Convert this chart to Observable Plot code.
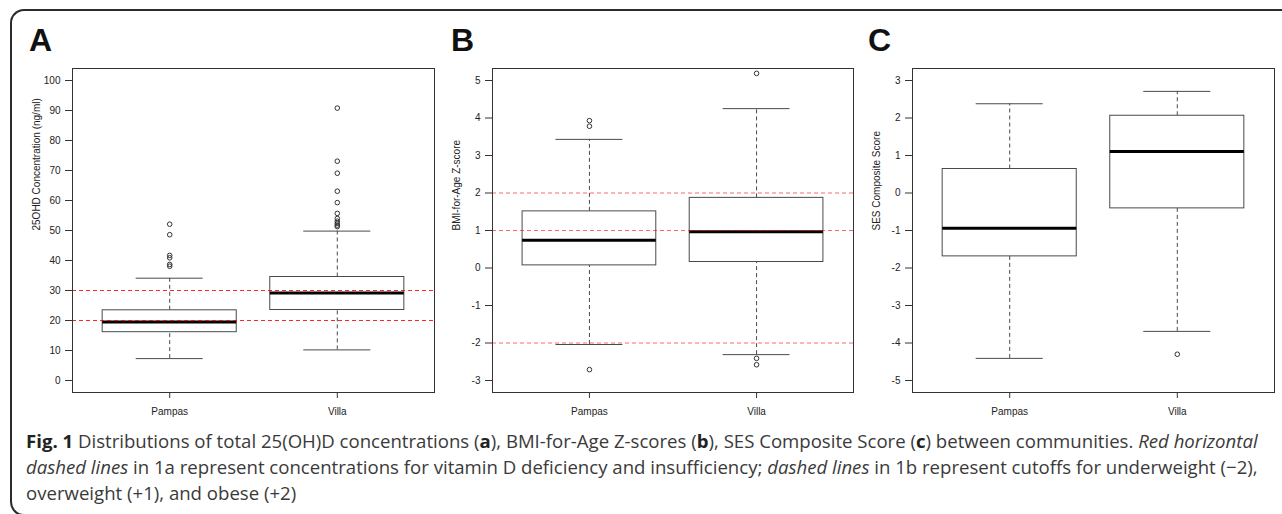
<!DOCTYPE html>
<html><head><meta charset="utf-8">
<script src="https://cdn.jsdelivr.net/npm/d3@7"></script>
<script src="https://cdn.jsdelivr.net/npm/@observablehq/plot@0.6"></script>
<style>
html,body{margin:0;padding:0;background:#fff;overflow:hidden;}
body{width:1282px;height:514px;position:relative;font-family:"Liberation Sans",Arial,sans-serif;}
#clip{position:absolute;left:0;top:0;width:1282px;height:514px;overflow:hidden;}
#frame{position:absolute;left:10px;top:9px;width:1320px;height:507px;border:2px solid #2b2b2b;border-right:none;border-radius:14px 0 0 14px;box-sizing:border-box;}
.panel{position:absolute;top:0;}
.letter{position:absolute;top:24px;font:bold 32px/32px "Liberation Sans",Arial,sans-serif;color:#111;}
#caption{position:absolute;left:26px;top:428px;white-space:nowrap;font:18.6px/26px "Open Sans",sans-serif;color:#3a3a3a;}
#caption b{color:#222;}
</style>
</head><body>
<div id="clip">
<div id="frame"></div>
<div id="pA" class="panel" style="left:0px"></div>
<div id="pB" class="panel" style="left:420px"></div>
<div id="pC" class="panel" style="left:850px"></div>
<div class="letter" style="left:29px">A</div>
<div class="letter" style="left:451px">B</div>
<div class="letter" style="left:868px">C</div>
<div id="caption"><b>Fig. 1</b> Distributions of total 25(OH)D concentrations (<b>a</b>), BMI-for-Age Z-scores (<b>b</b>), SES Composite Score (<b>c</b>) between communities. <i>Red horizontal</i><br><i>dashed lines</i> in 1a represent concentrations for vitamin D deficiency and insufficiency; <i>dashed lines</i> in 1b represent cutoffs for underweight (−2),<br>overweight (+1), and obese (+2)</div>
</div>
<script>
// ---- categories ----
const groups = ["Pampas", "Villa"];

// ---- Panel A: 25OHD concentration (ng/ml) ----
const vitD_whiskerLow  = [7.3, 10.2];
const vitD_q1          = [16.1, 23.5];
const vitD_median      = [19.5, 29.2];
const vitD_q3          = [23.4, 34.5];
const vitD_whiskerHigh = [34.1, 49.8];
const vitD_outliersPampas = [52.1, 48.6, 41.7, 40.9, 38.7, 38.1];
const vitD_outliersVilla  = [90.8, 73.1, 69.1, 63.1, 59.3, 55.7, 54.0, 53.1, 52.4, 51.8, 51.3];
const vitD_cutoffs = [20, 30];
const vitD_limits  = [0, 100];
const vitD_ticks   = [0, 10, 20, 30, 40, 50, 60, 70, 80, 90, 100];

// ---- Panel B: BMI-for-Age Z-score ----
const bmi_whiskerLow  = [-2.04, -2.31];
const bmi_q1          = [0.07, 0.16];
const bmi_median      = [0.74, 0.97];
const bmi_q3          = [1.51, 1.87];
const bmi_whiskerHigh = [3.43, 4.25];
const bmi_outliersPampas = [3.93, 3.78, -2.71];
const bmi_outliersVilla  = [5.19, -2.41, -2.58];
const bmi_cutoffs = [-2, 1, 2];
const bmi_limits  = [-3, 5];
const bmi_ticks   = [-3, -2, -1, 0, 1, 2, 3, 4, 5];

// ---- Panel C: SES Composite Score ----
const ses_whiskerLow  = [-4.41, -3.69];
const ses_q1          = [-1.69, -0.41];
const ses_median      = [-0.94, 1.11];
const ses_q3          = [0.64, 2.06];
const ses_whiskerHigh = [2.38, 2.71];
const ses_outliersPampas = [];
const ses_outliersVilla  = [-4.30];
const ses_cutoffs = [];
const ses_limits  = [-5, 3];
const ses_ticks   = [-5, -4, -3, -2, -1, 0, 1, 2, 3];

function expand(l) { const r = l[1] - l[0]; return [l[0] - 0.04 * r, l[1] + 0.04 * r]; }

function makePanel(o) {
  const stats = groups.map((g, i) => ({g, pos: i + 1, lo: o.lo[i], q1: o.q1[i], med: o.med[i], q3: o.q3[i], hi: o.hi[i]}));
  const pts = o.outliers.flatMap((arr, i) => arr.map(v => ({pos: i + 1, v})));
  const boxStroke = "#4a4a4a";
  return Plot.plot({
    width: o.width, height: 430,
    marginLeft: o.marginLeft, marginRight: o.marginRight, marginTop: 68, marginBottom: 38,
    style: {background: "transparent", overflow: "visible", fontFamily: "'Liberation Sans', Arial, sans-serif", fontSize: "10px", color: "#222"},
    x: {domain: [0.42, 2.58], label: null},
    y: {domain: expand(o.limits), label: null},
    marks: [
      Plot.ruleX(stats, {x: "pos", y1: "q3", y2: "hi", stroke: boxStroke, strokeDasharray: "4,3"}),
      Plot.ruleX(stats, {x: "pos", y1: "lo", y2: "q1", stroke: boxStroke, strokeDasharray: "4,3"}),
      Plot.ruleY(stats, {y: "hi", x1: d => d.pos - 0.2, x2: d => d.pos + 0.2, stroke: boxStroke}),
      Plot.ruleY(stats, {y: "lo", x1: d => d.pos - 0.2, x2: d => d.pos + 0.2, stroke: boxStroke}),
      Plot.rect(stats, {x1: d => d.pos - 0.4, x2: d => d.pos + 0.4, y1: "q1", y2: "q3", fill: "white", stroke: boxStroke}),
      Plot.ruleY(stats, {y: "med", x1: d => d.pos - 0.4, x2: d => d.pos + 0.4, stroke: "#000", strokeWidth: 3}),
      Plot.dot(pts, {x: "pos", y: "v", r: 2.3, stroke: "#333", strokeWidth: 1, fill: "none"}),
      Plot.ruleY(o.cutoffs, {stroke: "#ff0000", strokeOpacity: o.cutoffOpacity, strokeDasharray: "4,3"}),
      Plot.frame({stroke: "#333"}),
      Plot.axisY(o.ticks, {tickSize: 7, tickPadding: 5, tickFormat: d => String(d), stroke: "#333"}),
      Plot.axisX([1, 2], {tickSize: 6, tickPadding: 9, tickFormat: d => groups[d - 1], stroke: "#333"}),
      Plot.text([o.yLabel], {frameAnchor: "left", dx: -36, rotate: -90, text: d => d, fill: "#222", fontSize: 10})
    ]
  });
}

document.getElementById("pA").append(makePanel({
  lo: vitD_whiskerLow, q1: vitD_q1, med: vitD_median, q3: vitD_q3, hi: vitD_whiskerHigh,
  outliers: [vitD_outliersPampas, vitD_outliersVilla], cutoffs: vitD_cutoffs, cutoffOpacity: 0.85,
  limits: vitD_limits, ticks: vitD_ticks, yLabel: "25OHD Concentration (ng/ml)",
  width: 440, marginLeft: 72, marginRight: 6
}));
document.getElementById("pB").append(makePanel({
  lo: bmi_whiskerLow, q1: bmi_q1, med: bmi_median, q3: bmi_q3, hi: bmi_whiskerHigh,
  outliers: [bmi_outliersPampas, bmi_outliersVilla], cutoffs: bmi_cutoffs, cutoffOpacity: 0.6,
  limits: bmi_limits, ticks: bmi_ticks, yLabel: "BMI-for-Age Z-score",
  width: 440, marginLeft: 72, marginRight: 7
}));
document.getElementById("pC").append(makePanel({
  lo: ses_whiskerLow, q1: ses_q1, med: ses_median, q3: ses_q3, hi: ses_whiskerHigh,
  outliers: [ses_outliersPampas, ses_outliersVilla], cutoffs: ses_cutoffs, cutoffOpacity: 0.6,
  limits: ses_limits, ticks: ses_ticks, yLabel: "SES Composite Score",
  width: 432, marginLeft: 62, marginRight: 8
}));
</script>
</body></html>
